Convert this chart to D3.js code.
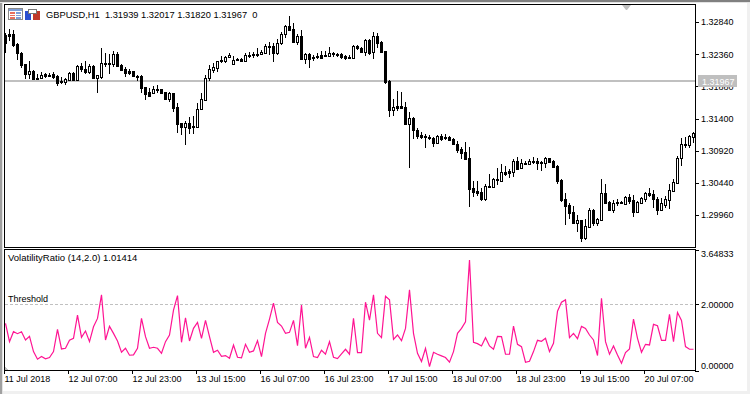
<!DOCTYPE html>
<html>
<head>
<meta charset="utf-8">
<script src="https://cdn.jsdelivr.net/npm/d3@7"></script>
<style>
  html, body { margin: 0; padding: 0; background: #fff; overflow: hidden; }
  text { font-family: "Liberation Sans", sans-serif; font-size: 9px; fill: #000; }
</style>
</head>
<body>
<svg id="chart" width="750" height="394"></svg>
<script>
// GBPUSD H1 candles
const highs = [
  1.32671,1.32731,1.32720,1.32531,1.32397,1.32213,1.32258,1.32123,1.32064,1.32094,
  1.32084,1.32084,1.32094,1.32044,1.32014,1.32004,1.32094,1.32094,1.32193,1.32223,
  1.32253,1.32213,1.32193,1.32044,1.32452,1.32372,1.32362,1.32402,1.32387,1.32213,
  1.32173,1.32138,1.32114,1.32054,1.32044,1.31875,1.31850,1.31885,1.31895,1.31845,
  1.31800,1.31790,1.31780,1.31626,1.31338,1.31367,1.31417,1.31437,1.31626,1.31775,
  1.32044,1.32198,1.32233,1.32258,1.32337,1.32332,1.32382,1.32337,1.32307,1.32307,
  1.32372,1.32387,1.32397,1.32447,1.32422,1.32511,1.32536,1.32531,1.32581,1.32695,
  1.32795,1.32929,1.32820,1.32656,1.32720,1.32372,1.32372,1.32352,1.32382,1.32407,
  1.32407,1.32467,1.32397,1.32372,1.32382,1.32347,1.32347,1.32492,1.32497,1.32462,
  1.32581,1.32586,1.32690,1.32671,1.32561,1.32407,1.31974,1.31691,1.31810,1.31795,
  1.31646,1.31492,1.31417,1.31253,1.31203,1.31163,1.31154,1.31129,1.31154,1.31163,
  1.31168,1.31144,1.31104,1.31069,1.30979,1.31049,1.30974,1.30462,1.30462,1.30362,
  1.30422,1.30571,1.30512,1.30661,1.30721,1.30691,1.30646,1.30800,1.30820,1.30790,
  1.30765,1.30790,1.30825,1.30805,1.30770,1.30825,1.30815,1.30780,1.30706,1.30492,
  1.30283,1.30139,1.30094,1.29960,1.29890,1.29895,1.30064,1.30044,1.29920,1.30497,
  1.30422,1.30173,1.30183,1.30193,1.30173,1.30248,1.30268,1.30258,1.30168,1.30228,
  1.30298,1.30357,1.30333,1.30233,1.30208,1.30243,1.30427,1.30497,1.30840,1.31104,
  1.31128,1.31153,1.31198
];
const opens = [
  1.32646,1.32656,1.32661,1.32516,1.32382,1.32208,1.32069,1.32114,1.32009,1.32009,
  1.32059,1.32054,1.32064,1.32034,1.31959,1.31949,1.31969,1.32084,1.31974,1.32178,
  1.32138,1.32089,1.32188,1.32009,1.32014,1.32228,1.32233,1.32213,1.32367,1.32198,
  1.32143,1.32114,1.32109,1.32034,1.32034,1.31865,1.31795,1.31780,1.31845,1.31835,
  1.31795,1.31696,1.31775,1.31571,1.31328,1.31278,1.31333,1.31288,1.31278,1.31537,
  1.31676,1.31999,1.32128,1.32158,1.32268,1.32253,1.32312,1.32208,1.32293,1.32293,
  1.32258,1.32352,1.32357,1.32367,1.32357,1.32382,1.32482,1.32477,1.32382,1.32521,
  1.32656,1.32780,1.32735,1.32546,1.32631,1.32288,1.32362,1.32322,1.32332,1.32347,
  1.32352,1.32327,1.32372,1.32357,1.32362,1.32332,1.32317,1.32307,1.32477,1.32452,
  1.32387,1.32571,1.32387,1.32631,1.32546,1.32407,1.31959,1.31532,1.31581,1.31586,
  1.31571,1.31313,1.31407,1.31233,1.31154,1.31139,1.31129,1.31109,1.31039,1.31139,
  1.31129,1.31119,1.31094,1.31019,1.30945,1.30900,1.30805,1.30362,1.30318,1.30303,
  1.30198,1.30387,1.30382,1.30497,1.30472,1.30601,1.30616,1.30601,1.30765,1.30656,
  1.30740,1.30726,1.30765,1.30765,1.30750,1.30730,1.30805,1.30765,1.30691,1.30482,
  1.30193,1.30109,1.29999,1.29845,1.29885,1.29621,1.29785,1.30034,1.29845,1.29885,
  1.30288,1.30158,1.30039,1.30154,1.30158,1.30129,1.30228,1.30178,1.30004,1.30134,
  1.30203,1.30283,1.30268,1.30193,1.30039,1.30109,1.30183,1.30323,1.30442,1.30805,
  1.31014,1.31009,1.31128
];
const closes = [
  1.32521,1.32636,1.32496,1.32372,1.32198,1.32069,1.32109,1.31989,1.31994,1.32044,
  1.32039,1.32044,1.32014,1.31934,1.31939,1.31989,1.32079,1.31974,1.32183,1.32133,
  1.32089,1.32183,1.32009,1.32044,1.32223,1.32218,1.32223,1.32362,1.32183,1.32123,
  1.32084,1.32079,1.32029,1.32024,1.31860,1.31760,1.31735,1.31845,1.31830,1.31775,
  1.31696,1.31775,1.31561,1.31323,1.31278,1.31328,1.31258,1.31273,1.31537,1.31686,
  1.31999,1.32133,1.32163,1.32253,1.32253,1.32312,1.32347,1.32273,1.32283,1.32263,
  1.32342,1.32342,1.32347,1.32352,1.32397,1.32482,1.32467,1.32382,1.32521,1.32661,
  1.32775,1.32720,1.32546,1.32626,1.32288,1.32357,1.32293,1.32303,1.32312,1.32307,
  1.32327,1.32377,1.32362,1.32347,1.32322,1.32298,1.32298,1.32482,1.32447,1.32397,
  1.32571,1.32372,1.32631,1.32531,1.32392,1.31949,1.31527,1.31571,1.31561,1.31561,
  1.31313,1.31407,1.31223,1.31139,1.31129,1.31124,1.31109,1.31039,1.31139,1.31089,
  1.31109,1.31084,1.31014,1.30930,1.30890,1.30790,1.30352,1.30303,1.30288,1.30198,
  1.30392,1.30377,1.30497,1.30477,1.30596,1.30571,1.30591,1.30760,1.30651,1.30735,
  1.30726,1.30770,1.30755,1.30740,1.30730,1.30810,1.30745,1.30676,1.30472,1.30188,
  1.30099,1.29994,1.29840,1.29885,1.29621,1.29795,1.30034,1.29845,1.29900,1.30288,
  1.30144,1.30034,1.30139,1.30139,1.30134,1.30228,1.30173,1.30004,1.30154,1.30218,
  1.30288,1.30263,1.30193,1.30039,1.30134,1.30193,1.30328,1.30447,1.30810,1.31019,
  1.30999,1.31138,1.31183
];
const lows = [
  1.32382,1.32561,1.32472,1.32273,1.32148,1.31994,1.31984,1.31974,1.31984,1.31994,
  1.32004,1.32014,1.31994,1.31885,1.31915,1.31900,1.31959,1.31954,1.31959,1.32099,
  1.32064,1.32064,1.32004,1.31785,1.31984,1.32173,1.32069,1.32173,1.32173,1.32114,
  1.32014,1.32049,1.32024,1.31959,1.31775,1.31681,1.31716,1.31760,1.31775,1.31760,
  1.31686,1.31641,1.31502,1.31178,1.31154,1.31004,1.31168,1.31163,1.31273,1.31527,
  1.31666,1.31964,1.32084,1.32099,1.32228,1.32233,1.32298,1.32203,1.32253,1.32243,
  1.32243,1.32307,1.32307,1.32322,1.32347,1.32372,1.32342,1.32243,1.32352,1.32497,
  1.32596,1.32710,1.32531,1.32492,1.32273,1.32218,1.32158,1.32258,1.32293,1.32288,
  1.32317,1.32312,1.32322,1.32312,1.32288,1.32268,1.32283,1.32303,1.32422,1.32387,
  1.32337,1.32347,1.32293,1.32457,1.32382,1.31915,1.31422,1.31437,1.31517,1.31551,
  1.31303,1.30666,1.31094,1.31089,1.31089,1.30960,1.31079,1.30979,1.31034,1.31069,
  1.31079,1.31074,1.31004,1.30890,1.30790,1.30780,1.30079,1.30233,1.30248,1.30173,
  1.30173,1.30362,1.30357,1.30412,1.30467,1.30546,1.30512,1.30532,1.30646,1.30646,
  1.30706,1.30721,1.30721,1.30631,1.30621,1.30666,1.30730,1.30666,1.30427,1.30158,
  1.29815,1.29900,1.29825,1.29706,1.29557,1.29586,1.29775,1.29795,1.29800,1.29870,
  1.30124,1.30019,1.29994,1.30094,1.30124,1.30124,1.30124,1.29935,1.29994,1.30119,
  1.30154,1.30223,1.30064,1.29965,1.30024,1.30059,1.30054,1.30308,1.30432,1.30691,
  1.30959,1.30959,1.31029
];

// VolatilityRatio (14,2.0) indicator line
const volatility = [
  1.42,0.87,1.17,1.11,1.17,0.92,1.03,0.57,0.34,0.42,0.35,0.39,0.57,1.24,0.65,0.67,0.91,0.97,1.67,1.00,
  1.19,0.87,1.32,1.57,2.28,0.92,1.33,1.12,0.89,0.55,0.67,0.46,0.47,0.67,1.57,1.02,0.67,0.70,0.67,0.52,
  0.87,1.07,1.82,2.26,0.85,1.59,0.89,1.27,1.45,0.97,1.51,1.02,0.55,0.61,0.43,0.45,0.37,0.77,0.40,0.38,
  0.79,0.55,0.59,0.90,0.42,1.12,1.55,2.03,1.45,1.34,1.12,1.15,1.51,0.75,1.97,0.67,1.00,0.42,0.39,0.61,
  0.49,0.87,0.40,0.36,0.50,0.64,0.49,1.57,0.54,0.54,2.06,1.52,2.28,1.12,0.99,2.24,2.13,0.94,1.07,0.90,
  1.27,2.43,1.12,0.52,0.27,0.67,0.12,0.55,0.49,0.44,0.39,0.25,0.57,1.12,1.27,1.47,3.33,0.85,0.81,0.74,
  0.99,0.74,0.64,1.03,1.02,0.49,0.49,1.34,0.79,0.72,0.25,0.28,0.57,0.91,0.88,0.97,0.57,0.82,1.79,2.06,
  2.13,0.99,1.12,0.96,1.33,1.27,1.07,0.92,0.45,2.18,0.87,0.49,0.74,0.47,0.22,0.54,0.65,1.55,0.97,0.55,
  0.79,0.77,1.39,1.35,0.91,0.91,1.69,0.87,1.75,1.51,0.72,0.64,0.64
];
const residual = [0.13, 0.10, 0.07, 0.04, 0.01];

// Axis labels
const priceTicks = [1.3284, 1.3236, 1.3188, 1.314, 1.3092, 1.3044, 1.2996];
const volTicks = [0, 2, 3.64833];
const timeTicks = [0, 16, 32, 48, 64, 80, 96, 112, 128, 144, 160];
const timeLabels = ["11 Jul 2018", "12 Jul 07:00", "12 Jul 23:00", "13 Jul 15:00", "16 Jul 07:00",
  "16 Jul 23:00", "17 Jul 15:00", "18 Jul 07:00", "18 Jul 23:00", "19 Jul 15:00", "20 Jul 07:00"];
const lastPrice = 1.31967;
const threshold = 2;

const bars = d3.range(highs.length);
const svg = d3.select("#chart");

// Scales
const x = d3.scaleLinear().domain([0, 172]).range([5, 693]);
const y = d3.scaleLinear().domain([1.2996, 1.3284]).range([215, 22]);
const yVol = d3.scaleLinear().domain([0, 3.64833]).range([370.5, 249.5]);

// Window background and borders
svg.append("rect").attr("width", 750).attr("height", 394).attr("fill", "#fff");
svg.append("rect").attr("x", 0).attr("y", 391).attr("width", 750).attr("height", 3).attr("fill", "#f0f0f0");
svg.append("rect").attr("x", 747).attr("y", 0).attr("width", 3).attr("height", 394).attr("fill", "#f0f0f0");
svg.append("rect").attr("x", 0).attr("y", 0).attr("width", 2).attr("height", 394).attr("fill", "#a0a0a0");
svg.append("rect").attr("x", 2).attr("y", 0).attr("width", 1).attr("height", 394).attr("fill", "#e3e3e3");
svg.append("rect").attr("x", 0).attr("y", 0).attr("width", 750).attr("height", 2).attr("fill", "#808080");
svg.append("rect").attr("x", 0).attr("y", 2).attr("width", 750).attr("height", 1).attr("fill", "#e3e3e3");

// Last price line
svg.append("rect")
  .attr("x", 5).attr("width", 690)
  .attr("y", Math.round(y(lastPrice)) - 1).attr("height", 2)
  .attr("fill", "#c0c0c0");

// Candles
const candles = svg.append("g").attr("shape-rendering", "crispEdges");
candles.selectAll("rect.wick")
  .data(bars)
  .enter()
  .append("rect")
  .attr("class", "wick")
  .attr("x", i => x(i))
  .attr("width", 1)
  .attr("y", i => Math.round(y(highs[i])))
  .attr("height", i => Math.max(1, Math.round(y(lows[i])) - Math.round(y(highs[i]))))
  .attr("fill", "#000");
candles.selectAll("rect.body")
  .data(bars)
  .enter()
  .append("rect")
  .attr("class", "body")
  .attr("x", i => x(i) - 0.5)
  .attr("width", 2)
  .attr("y", i => Math.round(y(Math.max(opens[i], closes[i]))) + 0.5)
  .attr("height", i => Math.max(1, Math.round(y(Math.min(opens[i], closes[i]))) - Math.round(y(Math.max(opens[i], closes[i])))))
  .attr("fill", i => closes[i] >= opens[i] ? "#fff" : "#000")
  .attr("stroke", "#000");

// Threshold line and indicator
svg.append("line")
  .attr("x1", 5).attr("x2", 695)
  .attr("y1", Math.floor(yVol(threshold)) + 0.5).attr("y2", Math.floor(yVol(threshold)) + 0.5)
  .attr("stroke", "#c0c0c0")
  .attr("stroke-dasharray", "3,2");

svg.append("path")
  .attr("d", d3.area()
    .x((d, i) => x(i / 4))
    .y0(yVol(0))
    .y1(d => yVol(d))(residual))
  .attr("fill", "#c0c0c0")
  .attr("shape-rendering", "crispEdges");

svg.append("path")
  .attr("d", d3.line().x((d, i) => x(i) + 0.5).y(d => yVol(d))(volatility))
  .attr("fill", "none")
  .attr("stroke", "#ff1493")
  .attr("stroke-width", 1.2);

// Pane frames
const frame = svg.append("g").attr("fill", "none").attr("stroke", "#000").attr("shape-rendering", "crispEdges");
frame.append("rect").attr("x", 4.5).attr("y", 4.5).attr("width", 691).attr("height", 243);
frame.append("rect").attr("x", 4.5).attr("y", 249.5).attr("width", 691).attr("height", 121);

// Axes
const priceAxis = svg.append("g")
  .attr("transform", "translate(695,0)")
  .call(d3.axisRight(y).tickValues(priceTicks).tickFormat(d3.format(".5f")).tickSize(4).tickPadding(2));
priceAxis.select(".domain").remove();

const volAxis = svg.append("g")
  .attr("transform", "translate(695,0)")
  .call(d3.axisRight(yVol).tickValues(volTicks).tickFormat(d3.format(".5f")).tickSize(4).tickPadding(2));
volAxis.select(".domain").remove();
// end labels of the pane sit inside it
volAxis.selectAll("text").attr("dy", d => d === 0 ? "-0.2em" : d === 3.64833 ? "0.82em" : "0.32em");

const timeAxis = svg.append("g")
  .attr("transform", "translate(-1,370)")
  .call(d3.axisBottom(x).tickValues(timeTicks)
    .tickFormat((d, i) => timeLabels[i]).tickSize(4).tickPadding(2));
timeAxis.select(".domain").remove();
timeAxis.selectAll("text").attr("text-anchor", "start").attr("dx", 0);
svg.selectAll(".tick line").attr("stroke", "#000").attr("shape-rendering", "crispEdges");
svg.selectAll("g text").style("font-family", "'Liberation Sans', sans-serif").style("font-size", "9px");

// Current price tag over the axis
svg.append("rect").attr("x", 698).attr("y", Math.round(y(lastPrice)) - 6).attr("width", 39).attr("height", 12).attr("fill", "#bfbfbf");
svg.append("text").attr("x", 702).attr("y", Math.round(y(lastPrice)) + 3.5).style("fill", "#fff").text("1.31967");

// Labels
svg.append("text").attr("x", 46).attr("y", 18).style("font-size", "9.3px").attr("xml:space", "preserve").text("GBPUSD,H1  1.31939 1.32017 1.31820 1.31967  0");
svg.append("text").attr("x", 8).attr("y", 261).style("font-size", "9.5px").text("VolatilityRatio (14,2.0) 1.01414");
svg.append("text").attr("x", 8).attr("y", 302).text("Threshold");

// Chart shift marker
svg.append("path").attr("d", "M622,5L631,5L627,10L626,10Z").attr("fill", "#c0c0c0");

// Icons in the top left corner
const icons = svg.append("g").attr("shape-rendering", "crispEdges");
icons.append("rect").attr("x", 8.5).attr("y", 8.5).attr("width", 14).attr("height", 11).attr("fill", "#fff").attr("stroke", "#8a8a8a");
icons.append("rect").attr("x", 9).attr("y", 9).attr("width", 13).attr("height", 2).attr("fill", "#7f9fd8");
d3.range(3).forEach(k => {
  icons.append("rect").attr("x", 10).attr("y", 12 + k * 2.5).attr("width", 5).attr("height", 1.5).attr("fill", "#e8705f");
  icons.append("rect").attr("x", 16).attr("y", 12 + k * 2.5).attr("width", 5).attr("height", 1.5).attr("fill", "#7f9fd8");
});
icons.append("rect").attr("x", 25).attr("y", 11).attr("width", 6).attr("height", 9).attr("fill", "#2a4fd0");
icons.append("rect").attr("x", 33).attr("y", 11).attr("width", 7).attr("height", 9).attr("fill", "#c0392b");
icons.append("rect").attr("x", 28).attr("y", 9).attr("width", 8).attr("height", 4).attr("fill", "#fff").attr("stroke", "#777");
</script>
</body>
</html>
